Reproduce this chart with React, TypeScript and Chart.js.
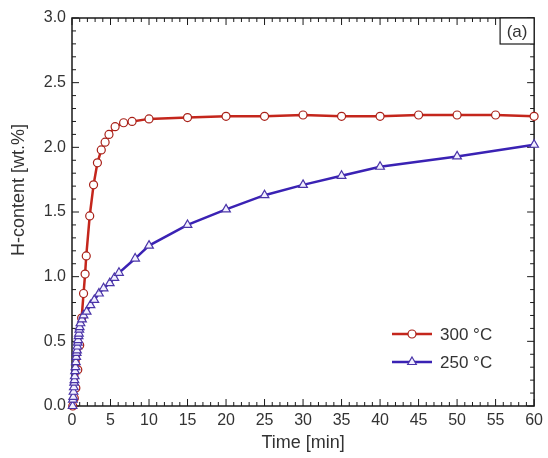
import React, { useEffect, useRef } from "react";
import { Chart, registerables } from "chart.js";

Chart.register(...registerables);

// ---- data ----
const seriesLabels = ["300 °C", "250 °C"];

const time300 = [0.1, 0.3, 0.5, 0.75, 1.0, 1.25, 1.5, 1.7, 1.85, 2.3, 2.8, 3.3, 3.8, 4.3, 4.8, 5.6, 6.7, 7.8, 10, 15, 20, 25, 30, 35, 40, 45, 50, 55, 60];
const h300 = [0.0, 0.06, 0.14, 0.28, 0.47, 0.68, 0.87, 1.02, 1.16, 1.47, 1.71, 1.88, 1.98, 2.04, 2.1, 2.16, 2.19, 2.2, 2.22, 2.23, 2.24, 2.24, 2.25, 2.24, 2.24, 2.25, 2.25, 2.25, 2.24];

const time250 = [0.08, 0.12, 0.16, 0.2, 0.24, 0.28, 0.32, 0.36, 0.4, 0.45, 0.5, 0.55, 0.6, 0.65, 0.7, 0.75, 0.8, 0.85, 0.9, 0.95, 1.0, 1.1, 1.3, 1.5, 1.9, 2.4, 2.9, 3.5, 4.1, 4.9, 5.5, 6.1, 8.2, 10, 15, 20, 25, 30, 35, 40, 50, 60];
const h250 = [0.0, 0.05, 0.07, 0.11, 0.145, 0.18, 0.2, 0.23, 0.27, 0.3, 0.34, 0.38, 0.41, 0.43, 0.46, 0.49, 0.51, 0.54, 0.56, 0.59, 0.61, 0.64, 0.67, 0.7, 0.73, 0.78, 0.82, 0.87, 0.91, 0.95, 0.99, 1.03, 1.14, 1.24, 1.4, 1.52, 1.63, 1.71, 1.78, 1.85, 1.93, 2.02];

const xTickValues = [0, 5, 10, 15, 20, 25, 30, 35, 40, 45, 50, 55, 60];
const yTickLabels = ["0.0", "0.5", "1.0", "1.5", "2.0", "2.5", "3.0"];

const xTitle = "Time [min]";
const yTitle = "H-content [wt.%]";
const panelLabel = "(a)";

const FONT = "'Liberation Sans', Arial, Helvetica, sans-serif";
const RED = "#c4261c";
const RED_EDGE = "#a82018";
const BLUE = "#3a22b4";
const BLUE_EDGE = "#4a34a8";
const TEXT = "#333333";

function drawMarker(ctx: CanvasRenderingContext2D, style: string, x: number, y: number, r: number) {
  ctx.beginPath();
  if (style === "triangle") {
    let rad = 0;
    const step = (2 * Math.PI) / 3;
    ctx.moveTo(x + Math.sin(rad) * r, y - Math.cos(rad) * r);
    rad += step;
    ctx.lineTo(x + Math.sin(rad) * r, y - Math.cos(rad) * r);
    rad += step;
    ctx.lineTo(x + Math.sin(rad) * r, y - Math.cos(rad) * r);
    ctx.closePath();
  } else {
    ctx.arc(x, y, r, 0, Math.PI * 2);
  }
  ctx.fill();
  ctx.stroke();
}

const framePlugin = {
  id: "frameTicks",
  beforeDatasetsDraw(chart: any) {
    const { ctx, chartArea, scales } = chart;
    const { left, right, top, bottom } = chartArea;
    const x = scales.x;
    const y = scales.y;
    ctx.save();
    ctx.strokeStyle = "#1a1a1a";
    ctx.lineWidth = 1;
    for (let t = 0; t <= 60; t += 1) {
      const px = x.getPixelForValue(t);
      const len = t % 5 === 0 ? 7 : 4;
      ctx.beginPath();
      ctx.moveTo(px, bottom);
      ctx.lineTo(px, bottom - len);
      ctx.moveTo(px, top);
      ctx.lineTo(px, top + len);
      ctx.stroke();
    }
    for (let i = 0; i <= 30; i++) {
      const py = y.getPixelForValue(i / 10);
      const len = i % 5 === 0 ? 7 : 4;
      ctx.beginPath();
      ctx.moveTo(left, py);
      ctx.lineTo(left + len, py);
      ctx.moveTo(right, py);
      ctx.lineTo(right - len, py);
      ctx.stroke();
    }
    ctx.lineWidth = 1.5;
    ctx.strokeRect(left, top, right - left, bottom - top);
    ctx.restore();
  },
  afterDatasetsDraw(chart: any) {
    const { ctx, chartArea } = chart;
    const { right, top, bottom, left } = chartArea;
    ctx.save();
    // panel label box
    const bw = 34;
    const bh = 26;
    ctx.fillStyle = "#ffffff";
    ctx.fillRect(right - bw, top, bw, bh);
    ctx.strokeStyle = "#1a1a1a";
    ctx.lineWidth = 1.2;
    ctx.strokeRect(right - bw, top, bw, bh);
    ctx.fillStyle = TEXT;
    ctx.font = `17px ${FONT}`;
    ctx.textAlign = "center";
    ctx.textBaseline = "middle";
    ctx.fillText(panelLabel, right - bw / 2, top + bh / 2 + 1);

    // legend
    const order = [0, 1];
    order.forEach((di, row) => {
      const ds = chart.data.datasets[di];
      const ly = bottom - 72 + row * 28;
      const x0 = left + 320;
      const x1 = x0 + 40;
      ctx.strokeStyle = ds.borderColor;
      ctx.lineWidth = ds.borderWidth;
      ctx.beginPath();
      ctx.moveTo(x0, ly);
      ctx.lineTo(x1, ly);
      ctx.stroke();
      ctx.fillStyle = ds.pointBackgroundColor;
      ctx.strokeStyle = ds.pointBorderColor;
      ctx.lineWidth = ds.pointBorderWidth;
      drawMarker(ctx, ds.pointStyle, (x0 + x1) / 2, ly, ds.pointRadius);
      ctx.fillStyle = TEXT;
      ctx.font = `17px ${FONT}`;
      ctx.textAlign = "left";
      ctx.textBaseline = "middle";
      ctx.fillText(ds.label, x1 + 8, ly + 1);
    });

    // y axis title
    ctx.save();
    ctx.translate(19, (top + bottom) / 2 - 22);
    ctx.rotate(-Math.PI / 2);
    ctx.fillStyle = TEXT;
    ctx.font = `18px ${FONT}`;
    ctx.textAlign = "center";
    ctx.textBaseline = "middle";
    ctx.fillText(yTitle, 0, 0);
    ctx.restore();
    ctx.restore();
  },
};

export default function App() {
  const canvasRef = useRef<HTMLCanvasElement | null>(null);

  useEffect(() => {
    document.body.style.margin = "0";
    const canvas = canvasRef.current;
    if (!canvas) return;
    const chart = new Chart(canvas, {
      type: "line",
      data: {
        datasets: [
          {
            label: seriesLabels[0],
            data: time300.map((t, i) => ({ x: t, y: h300[i] })),
            borderColor: RED,
            borderWidth: 2.5,
            pointStyle: "circle",
            pointRadius: 4,
            pointBackgroundColor: "#ffffff",
            pointBorderColor: RED_EDGE,
            pointBorderWidth: 1.2,
            tension: 0,
            clip: false,
            order: 1,
          } as any,
          {
            label: seriesLabels[1],
            data: time250.map((t, i) => ({ x: t, y: h250[i] })),
            borderColor: BLUE,
            borderWidth: 2.5,
            pointStyle: "triangle",
            pointRadius: 5,
            pointBackgroundColor: "#f2f0ff",
            pointBorderColor: BLUE_EDGE,
            pointBorderWidth: 1.2,
            tension: 0,
            clip: false,
            order: 0,
          } as any,
        ],
      },
      options: {
        animation: false,
        responsive: true,
        maintainAspectRatio: false,
        layout: { padding: { left: 0, right: 9, top: 18, bottom: 0 } },
        plugins: {
          legend: { display: false },
          tooltip: { enabled: false },
        },
        scales: {
          x: {
            type: "linear",
            min: 0,
            max: 60,
            afterBuildTicks: (s: any) => {
              s.ticks = xTickValues.map((v) => ({ value: v }));
            },
            afterFit: (s: any) => {
              s.height = 52;
            },
            grid: { display: false, drawTicks: false },
            border: { display: false },
            ticks: {
              color: TEXT,
              font: { family: FONT, size: 16 },
              padding: 5,
              maxRotation: 0,
              autoSkip: false,
            },
            title: {
              display: true,
              text: xTitle,
              color: TEXT,
              font: { family: FONT, size: 18 },
              padding: { top: 0, bottom: 4 },
            },
          },
          y: {
            type: "linear",
            min: 0,
            max: 3,
            afterBuildTicks: (s: any) => {
              s.ticks = yTickLabels.map((l) => ({ value: parseFloat(l) }));
            },
            afterFit: (s: any) => {
              s.width = 72;
            },
            grid: { display: false, drawTicks: false },
            border: { display: false },
            ticks: {
              color: TEXT,
              font: { family: FONT, size: 16 },
              padding: 6,
              autoSkip: false,
              callback: (v: any) => yTickLabels.find((l) => parseFloat(l) === Number(v)) ?? "",
            },
          },
        },
      },
      plugins: [framePlugin],
    });
    return () => chart.destroy();
  }, []);

  return (
    <div style={{ position: "fixed", left: 0, top: 0, width: 548, height: 458, background: "#fff" }}>
      <canvas ref={canvasRef} />
    </div>
  );
}
